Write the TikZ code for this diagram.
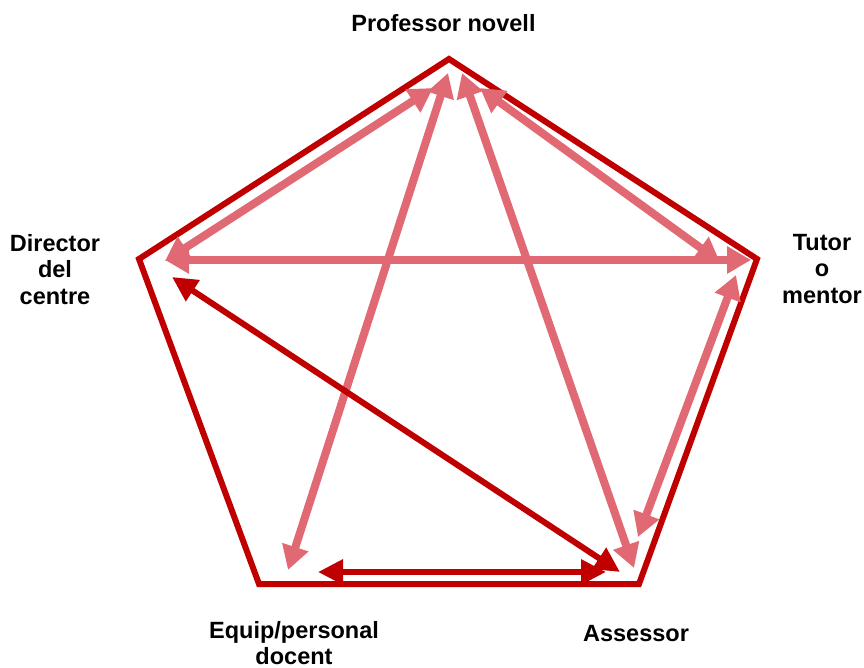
\documentclass[tikz,border=0pt]{standalone}
\usepackage{fontspec}
\setmainfont{Liberation Sans}
\usetikzlibrary{arrows.meta}
\definecolor{darkred}{RGB}{192,0,0}
\definecolor{hatchred}{RGB}{224,105,115}
\tikzset{
  frame/.style={draw=darkred, line width=6pt, line join=miter},
  lbl/.style={inner sep=0pt, font=\fontsize{23.5}{26.5}\selectfont\bfseries, align=center},
  softarrow/.style={draw=hatchred, line width=8pt, {Triangle[length=24pt,width=26pt]}-{Triangle[length=24pt,width=26pt]}},
  hardarrow/.style={draw=darkred, line width=6pt, {Triangle[length=25pt,width=24pt]}-{Triangle[length=25pt,width=24pt]}}
}
\begin{document}
\begin{tikzpicture}[x=1pt,y=-1pt]
\useasboundingbox (0,0) rectangle (864,668);
% pentagon vertices
\coordinate (vP) at (449,59);
\coordinate (vT) at (757,259);
\coordinate (vA) at (639,584);
\coordinate (vE) at (259,584);
\coordinate (vD) at (139,259);
\draw[frame] (vP) -- (vT) -- (vA) -- (vE) -- (vD) -- cycle;
% arrow end points
\coordinate (pD) at (433,88);
\coordinate (pE) at (448,73);
\coordinate (pA) at (462,73);
\coordinate (pT) at (480,88);
\coordinate (dP) at (165,261);
\coordinate (dT) at (165,260);
\coordinate (tD) at (751,260);
\coordinate (tP) at (720,262);
\coordinate (tA) at (736,275);
\coordinate (eP) at (288,570);
\coordinate (aP) at (634,568);
\coordinate (aT) at (638,537);
\coordinate (dA) at (172,277);
\coordinate (aD) at (620,572);
\coordinate (eA) at (318,572);
\coordinate (aE) at (606,572);
% soft arrows
\draw[softarrow] (pD) -- (dP);
\draw[softarrow] (dT) -- (tD);
\draw[softarrow] (pT) -- (tP);
\draw[softarrow] (pE) -- (eP);
\draw[softarrow] (pA) -- (aP);
\draw[softarrow] (tA) -- (aT);
% solid arrows
\draw[hardarrow] (dA) -- (aD);
\draw[hardarrow] (eA) -- (aE);
% labels
\node[lbl, anchor=base] (lP) at (443.5,32) {Professor novell};
\node[lbl, anchor=north] (lD) at (55,234) {Director\\del\\centre};
\node[lbl, anchor=north] (lT) at (822,234) {Tutor\\o\\mentor};
\node[lbl, anchor=north] (lE) at (294,621) {Equip/personal\\docent};
\node[lbl, anchor=base] (lA) at (636,641) {Assessor};
\end{tikzpicture}
\end{document}
